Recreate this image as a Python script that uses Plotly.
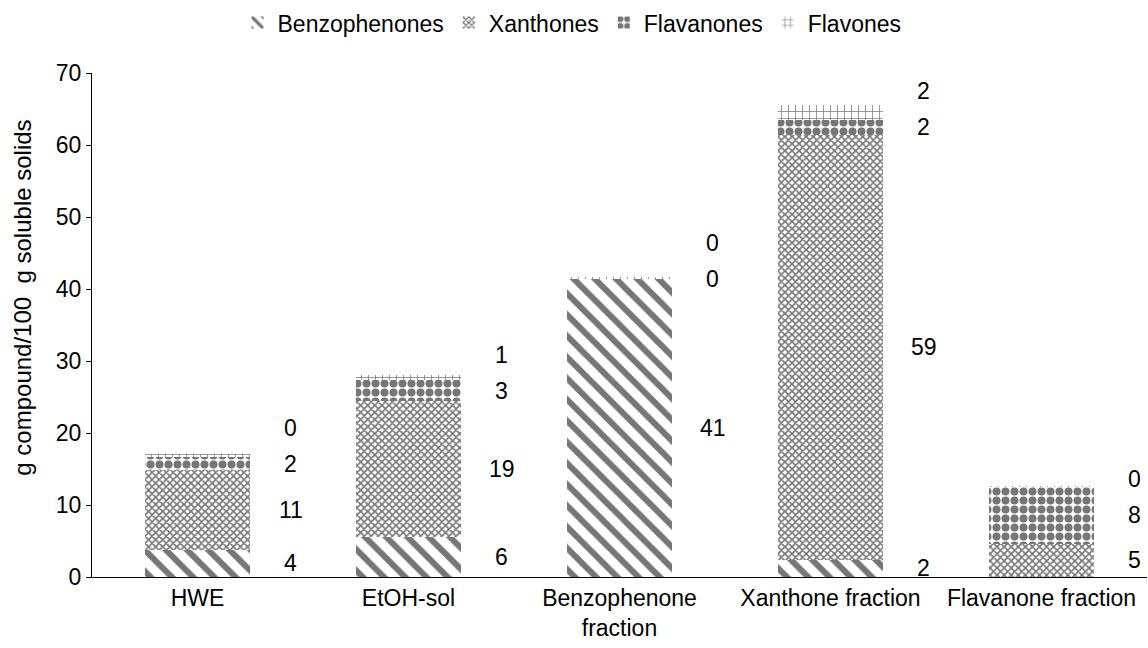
import plotly.graph_objects as go

categories = ["HWE", "EtOH-sol", "Benzophenone<br>fraction", "Xanthone fraction", "Flavanone fraction"]
benzophenones = [3.8, 5.6, 41.4, 2.4, 0.0]
xanthones = [11.0, 18.9, 0.0, 59.0, 4.6]
flavanones = [1.9, 2.8, 0.1, 2.1, 7.9]
flavones = [0.4, 0.8, 0.1, 2.1, 0.1]
series_names = ["Benzophenones", "Xanthones", "Flavanones", "Flavones"]
series_values = [benzophenones, xanthones, flavanones, flavones]
y_title = "g compound/100\u00a0 g soluble solids"

grey = "#767676"
patterns = [
    dict(shape="\\", fgcolor=grey, bgcolor="white", size=15, solidity=0.4, fgopacity=1),
    dict(shape="x", fgcolor=grey, bgcolor="white", size=5, solidity=0.55, fgopacity=1),
    dict(shape=".", fgcolor=grey, bgcolor="white", size=9, solidity=0.62, fgopacity=1),
    dict(shape="+", fgcolor=grey, bgcolor="white", size=7, solidity=0.2, fgopacity=1),
]

FS = 23

fig = go.Figure()
for name, vals, pat in zip(series_names, series_values, patterns):
    fig.add_trace(go.Bar(
        x=categories, y=vals, name=name,
        marker=dict(color="white", pattern=pat, line=dict(width=0)),
    ))

# data labels on the right of each bar, at segment middles, pushed apart
gap = 5.0
for i, cat in enumerate(categories):
    base = 0.0
    prev = None
    for vals in series_values:
        v = vals[i]
        mid = base + v / 2
        base += v
        if v == 0:
            continue
        y = mid if prev is None else max(mid, prev + gap)
        prev = y
        fig.add_annotation(x=cat, y=y, text=f"{round(v):d}", showarrow=False,
                           xshift=93, font=dict(size=FS, color="black"))

# y-axis title (placed like the original, slightly above the plot centre)
fig.add_annotation(xref="paper", yref="paper", x=-0.066, y=0.555, text=y_title,
                   xanchor="center", yanchor="middle",
                   textangle=-90, showarrow=False, font=dict(size=24, color="black"))

fig.update_layout(
    width=1148, height=648,
    margin=dict(l=92, r=1, t=73, b=71),
    barmode="stack", bargap=0.5,
    plot_bgcolor="white", paper_bgcolor="white",
    font=dict(family="Liberation Sans, Arial, sans-serif", size=FS, color="black"),
    legend=dict(orientation="h", x=0.455, xanchor="center", y=1.1, yanchor="middle",
                font=dict(size=FS), traceorder="normal", itemwidth=30),
    showlegend=True,
)
fig.update_yaxes(range=[0, 70], dtick=10, showline=True, linecolor="black", linewidth=1,
                 ticks="outside", ticklen=5, tickcolor="black", showgrid=False, zeroline=False)
fig.update_xaxes(showline=True, linecolor="black", linewidth=1, ticks="", showgrid=False)

fig.write_html("out.html")
